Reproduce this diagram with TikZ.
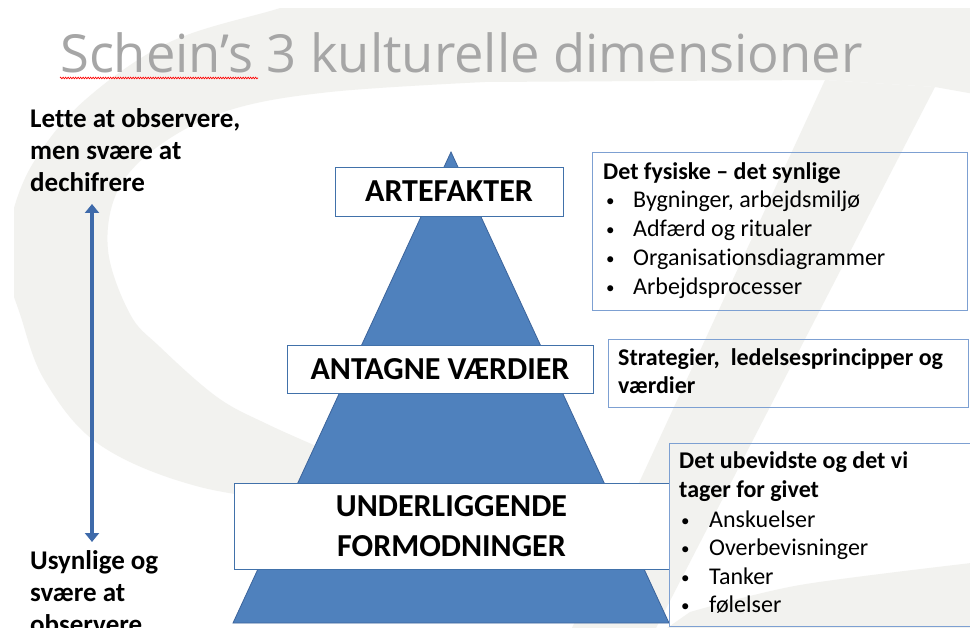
\documentclass[tikz,border=0pt]{standalone}
\usepackage{graphicx}
\usepackage{fontspec}
\setmainfont{Carlito}[Ligatures={NoCommon}]
\newfontfamily\titlefont{Open Sans}
\usetikzlibrary{decorations.pathmorphing,arrows.meta}
\definecolor{bgray}{RGB}{242,242,239}
\definecolor{pyrblue}{RGB}{79,129,189}
\definecolor{pyredge}{RGB}{60,100,155}
\definecolor{boxedge}{RGB}{65,113,170}
\definecolor{lboxedge}{RGB}{125,160,210}
\definecolor{titlegray}{RGB}{166,166,166}
\definecolor{arrowblue}{RGB}{62,106,170}
\begin{document}
\begin{tikzpicture}[x=1pt,y=-1pt,
  lbl/.style={font=\fontsize{32pt}{40pt}\selectfont\bfseries, align=center, draw=boxedge, fill=white, line width=0.9pt, inner sep=0pt},
  rbox/.style={draw=lboxedge, line width=0.9pt, inner sep=0pt},
  ltxt/.style={anchor=base west, inner sep=0pt, font=\fontsize{27pt}{32pt}\selectfont\bfseries},
  rtxt/.style={anchor=base west, inner sep=0pt, font=\fontsize{24pt}{29pt}\selectfont},
  bul/.style={anchor=base west, inner sep=0pt, font=\fontsize{17pt}{20pt}\selectfont},
  rbold/.style={rtxt, font=\fontsize{24pt}{29pt}\selectfont\bfseries}]
\useasboundingbox (0,0) rectangle (970,628);
\clip (0,0) rectangle (970,628);
\fill[white] (0,0) rectangle (970,628);
% background swoosh
\begin{scope}
\clip (14,9) rectangle (970,628);
\fill[bgray] plot[smooth, tension=0.6] coordinates {(320,-5) (277,9) (170,42) (85,100) (35,160) (12,215) (6,265) (20,314) (45,381) (100,445) (200,487) (330,506)}
  -- plot[smooth, tension=0.6] coordinates {(330,452) (267,424) (217,397) (160,347) (130,314) (108,250) (118,190) (160,145) (230,110) (330,92) (485,82)}
  -- (825,80) -- (935,87) -- (980,95) -- (980,-5) -- cycle;
\fill[bgray] (825,80) -- (935,87) -- (656,628) -- (572,628) -- cycle;
\fill[bgray] (650,640) -- plot[smooth] coordinates {(690,612) (800,585) (980,562)} -- (980,640) -- cycle;
\end{scope}
% title
\node[anchor=base west, inner sep=0pt, text=titlegray] (title) at (60,73) {\resizebox{802pt}{!}{\titlefont Schein’s 3 kulturelle dimensioner}};
\coordinate (ul1) at (60,78);
\coordinate (ul2) at (258,78);
\draw[red, line width=0.6pt, decorate, decoration={zigzag, amplitude=0.9pt, segment length=2.5pt}] (ul1) -- (ul2);
% left texts
\node[ltxt] (l1) at (30,128) {Lette at observere,};
\node[ltxt] (l2) at (30,160) {men svære at};
\node[ltxt] (l3) at (30,192) {dechifrere};
\node[ltxt] (u1) at (30,569) {Usynlige og};
\node[ltxt] (u2) at (30,601) {svære at};
\node[ltxt] (u3) at (30,633) {observere};
\coordinate (atop) at (92,204);
\coordinate (abot) at (92,542);
\draw[arrowblue, line width=3.8pt, {Triangle[width=14pt,length=9pt]}-{Triangle[width=14pt,length=9pt]}] (atop) -- (abot);
% pyramid
\coordinate (apex) at (451,152);
\coordinate (bl) at (233,623);
\coordinate (br) at (669,623);
\draw[fill=pyrblue, draw=pyredge, line width=0.8pt] (apex) -- (br) -- (bl) -- cycle;
\node[lbl, minimum width=228pt, minimum height=49pt] (art) at (449,191.5) {ARTEFAKTER};
\node[lbl, minimum width=306pt, minimum height=48pt] (ant) at (440,369) {ANTAGNE VÆRDIER};
\node[lbl, minimum width=435pt, minimum height=86pt] (und) at (451.5,526) {UNDERLIGGENDE\\FORMODNINGER};
% right boxes
\node[rbox, minimum width=375pt, minimum height=158pt] (b1) at (779.5,231) {};
\node[rbox, minimum width=360pt, minimum height=68pt] (b2) at (788,373) {};
\node[rbox, minimum width=311pt, minimum height=183pt] (b3) at (824.5,534.5) {};
% box 1 text
\node[rbold] (h1) at (603,180) {Det fysiske – det synlige};
\node[bul] (d1) at (606,207) {•};
\node[rtxt] (t1) at (633,208) {Bygninger, arbejdsmiljø};
\node[bul] (d2) at (606,236) {•};
\node[rtxt] (t2) at (633,237) {Adfærd og ritualer};
\node[bul] (d3) at (606,265) {•};
\node[rtxt] (t3) at (633,266) {Organisationsdiagrammer};
\node[bul] (d4) at (606,294) {•};
\node[rtxt] (t4) at (633,295) {Arbejdsprocesser};
% box 2 text
\node[rbold] (s1) at (618,366) {Strategier,\ \ ledelsesprincipper og};
\node[rbold] (s2) at (618,394) {værdier};
% box 3 text
\node[rbold] (h3a) at (679,468) {Det ubevidste og det vi};
\node[rbold] (h3b) at (679,497) {tager for givet};
\node[bul] (e1) at (681,526) {•};
\node[rtxt] (v1) at (709,527) {Anskuelser};
\node[bul] (e2) at (681,554) {•};
\node[rtxt] (v2) at (709,555) {Overbevisninger};
\node[bul] (e3) at (681,583) {•};
\node[rtxt] (v3) at (709,584) {Tanker};
\node[bul] (e4) at (681,611) {•};
\node[rtxt] (v4) at (709,612) {følelser};
\end{tikzpicture}
\end{document}
